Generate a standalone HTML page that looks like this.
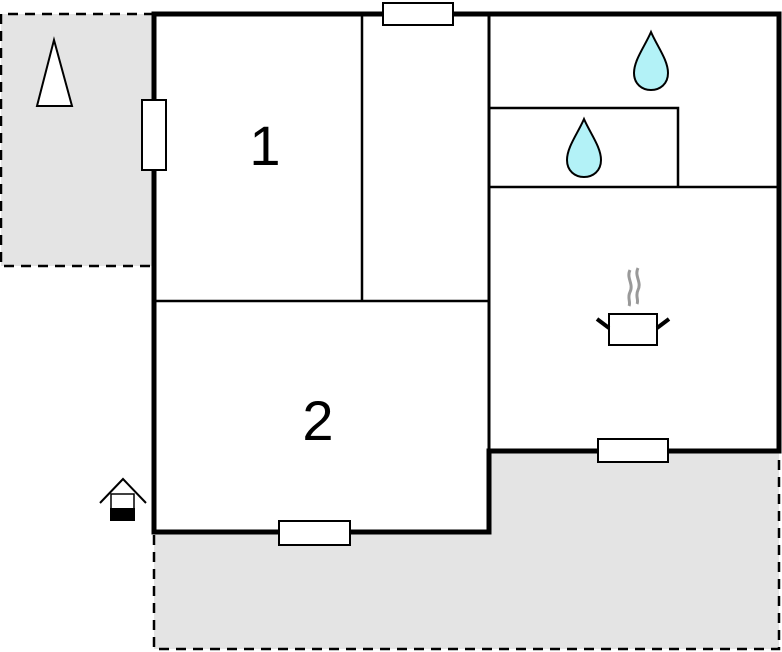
<!DOCTYPE html>
<html><head><style>body{margin:0;background:#fff}svg{display:block}</style></head><body>
<svg width="782" height="652" viewBox="0 0 782 652" xmlns="http://www.w3.org/2000/svg">
<rect x="1" y="14" width="153" height="252" fill="#e4e4e4"/>
<path d="M154,14 H1 V266 H154" fill="none" stroke="#000" stroke-width="2.5" stroke-dasharray="10,7"/>
<polygon points="154,532 489,532 489,451 779,451 779,649 154,649" fill="#e4e4e4"/>
<path d="M154,535 V649 H779 V451" fill="none" stroke="#000" stroke-width="2.5" stroke-dasharray="10,7"/>
<rect x="154" y="14" width="625" height="437" fill="#fff"/>
<rect x="154" y="451" width="335" height="81" fill="#fff"/>
<g stroke="#000" stroke-width="2.5" fill="none">
<line x1="362" y1="14" x2="362" y2="301"/>
<line x1="154" y1="301" x2="489" y2="301"/>
<line x1="489" y1="187" x2="779" y2="187"/>
<path d="M489,108 H678 V187"/>
</g>
<path d="M154,14 H779 V451 H489 V532 H154 Z" fill="none" stroke="#000" stroke-width="5"/>
<line x1="489" y1="14" x2="489" y2="451" stroke="#000" stroke-width="3"/>
<g fill="#fff" stroke="#000" stroke-width="2">
<rect x="383" y="3" width="70" height="22"/>
<rect x="142" y="100" width="24" height="70"/>
<rect x="279" y="521" width="71" height="24"/>
<rect x="598" y="439" width="70" height="23"/>
<polygon points="54,40 37,106 72,106"/>
</g>
<g fill="#b3f2f7" stroke="#000" stroke-width="2">
<path d="M651,32 C645,46 634,60 634,73 C634,84 642,90 651,90 C660,90 668,84 668,73 C668,60 657,46 651,32 Z"/>
<path d="M584,119 C578,133 567,147 567,160 C567,171 575,177 584,177 C593,177 601,171 601,160 C601,147 590,133 584,119 Z"/>
</g>
<g stroke="#999" stroke-width="3" fill="none">
<path d="M630,270 C626,278 634,284 630,292 C627,298 631,302 629,306"/>
<path d="M638,268 C634,276 642,282 638,290 C635,296 639,300 637,304"/>
</g>
<rect x="609" y="314" width="48" height="31" fill="#fff" stroke="#000" stroke-width="2"/>
<g stroke="#000" stroke-width="4">
<line x1="597" y1="319" x2="609" y2="328"/>
<line x1="669" y1="319" x2="657" y2="328"/>
</g>
<path d="M100,503 L123,479 L146,503" fill="none" stroke="#000" stroke-width="2"/>
<rect x="111" y="494" width="23" height="26" fill="#fff" stroke="#000" stroke-width="1.5"/>
<rect x="110" y="508" width="25" height="13" fill="#000"/>
<g font-family="Liberation Sans, sans-serif" font-size="56" text-anchor="middle" fill="#000">
<text x="265" y="165">1</text>
<text x="318" y="440">2</text>
</g>
</svg>
</body></html>
